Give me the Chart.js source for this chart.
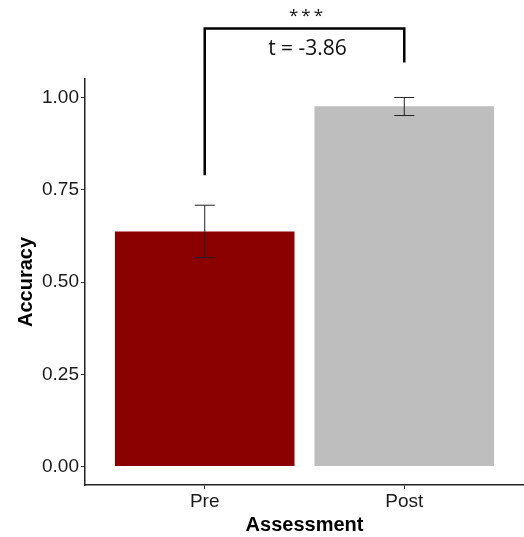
<!DOCTYPE html>
<html>
<head>
<meta charset="utf-8">
<script src="https://cdn.jsdelivr.net/npm/chart.js@4"></script>
<style>
  html, body { margin: 0; padding: 0; background: #fff; }
  #wrap { width: 524px; height: 537px; }
</style>
</head>
<body>
<div id="wrap"><canvas id="chart" width="524" height="537"></canvas></div>
<script>
// data
const categories = ['Pre', 'Post'];
const accuracy = [0.637, 0.976];
const errLow = [0.566, 0.951];
const errHigh = [0.708, 1.0];
const barColors = ['#8B0000', '#BEBEBE'];
const yTicks = [0, 0.25, 0.5, 0.75, 1.0];

// significance bracket (data units)
const bracketX = [1, 2];
const bracketLegBottom = [0.789, 1.095];
const bracketTop = 1.187;
const starsLabel = '***';
const starsY = 1.219;
const statLabel = 't = -3.86';
const statY = 1.130;

const positions = categories.map((c, i) => i + 1);

const errorBars = {
    id: 'errorBars',
    afterDatasetsDraw(chart) {
        const { ctx, scales: { x, y } } = chart;
        ctx.save();
        ctx.strokeStyle = '#222';
        ctx.lineWidth = 1;
        positions.forEach((p, i) => {
            const cx = x.getPixelForValue(p);
            const half = x.getPixelForValue(p + 0.05) - cx;
            const top = y.getPixelForValue(errHigh[i]);
            const bot = y.getPixelForValue(errLow[i]);
            ctx.beginPath();
            ctx.moveTo(cx, top); ctx.lineTo(cx, bot);
            ctx.moveTo(cx - half, top); ctx.lineTo(cx + half, top);
            ctx.moveTo(cx - half, bot); ctx.lineTo(cx + half, bot);
            ctx.stroke();
        });

        // bracket
        const x1 = x.getPixelForValue(bracketX[0]);
        const x2 = x.getPixelForValue(bracketX[1]);
        ctx.strokeStyle = '#000';
        ctx.lineWidth = 2.5;
        ctx.beginPath();
        ctx.moveTo(x1, y.getPixelForValue(bracketLegBottom[0]));
        ctx.lineTo(x1, y.getPixelForValue(bracketTop));
        ctx.lineTo(x2, y.getPixelForValue(bracketTop));
        ctx.lineTo(x2, y.getPixelForValue(bracketLegBottom[1]));
        ctx.stroke();

        ctx.fillStyle = '#111';
        ctx.textAlign = 'center';
        ctx.textBaseline = 'middle';
        const mid = (x1 + x2) / 2;
        ctx.font = '17px "Open Sans"';
        ctx.letterSpacing = '3px';
        ctx.fillText(starsLabel, mid + 3, y.getPixelForValue(starsY));
        ctx.letterSpacing = '0px';
        ctx.font = '21px "Open Sans"';
        ctx.fillText(statLabel, mid + 3, y.getPixelForValue(statY));
        ctx.restore();
    }
};

new Chart(document.getElementById('chart'), {
    type: 'bar',
    data: {
        datasets: [{
            data: positions.map((p, i) => ({ x: p, y: accuracy[i] })),
            backgroundColor: barColors,
            borderWidth: 0,
            categoryPercentage: 1,
            barPercentage: 0.9
        }]
    },
    options: {
        responsive: false,
        animation: false,
        layout: { padding: { top: 79, right: 0, left: 0, bottom: 0 } },
        plugins: { legend: { display: false }, tooltip: { enabled: false } },
        scales: {
            x: {
                type: 'linear',
                min: 0.4,
                max: 2.6,
                offset: false,
                afterBuildTicks: s => { s.ticks = positions.map(v => ({ value: v })); },
                afterFit: s => { s.height = 52; },
                border: { color: '#222', width: 1.5 },
                grid: { display: true, offset: false, drawOnChartArea: false, drawTicks: true, tickLength: 4, color: '#333' },
                ticks: {
                    callback: v => categories[v - 1],
                    color: '#1a1a1a',
                    padding: 1,
                    font: { family: '"Liberation Sans", Arial', size: 19 }
                },
                title: {
                    display: true,
                    text: 'Assessment',
                    color: '#000',
                    padding: { top: 0, bottom: 0 },
                    font: { family: '"Liberation Sans", Arial', size: 20, weight: 'bold' }
                }
            },
            y: {
                min: -0.05,
                max: 1.05,
                afterBuildTicks: s => { s.ticks = yTicks.map(v => ({ value: v })); },
                afterFit: s => { s.width = 85; },
                border: { color: '#222', width: 1.5 },
                grid: { display: true, drawOnChartArea: false, drawTicks: true, tickLength: 4, color: '#333' },
                ticks: {
                    callback: v => v.toFixed(2),
                    color: '#1a1a1a',
                    padding: 2,
                    font: { family: '"Liberation Sans", Arial', size: 19 }
                },
                title: {
                    display: true,
                    text: 'Accuracy',
                    color: '#000',
                    padding: { top: 14, bottom: 0 },
                    font: { family: '"Liberation Sans", Arial', size: 20, weight: 'bold' }
                }
            }
        }
    },
    plugins: [errorBars]
});
</script>
</body>
</html>
